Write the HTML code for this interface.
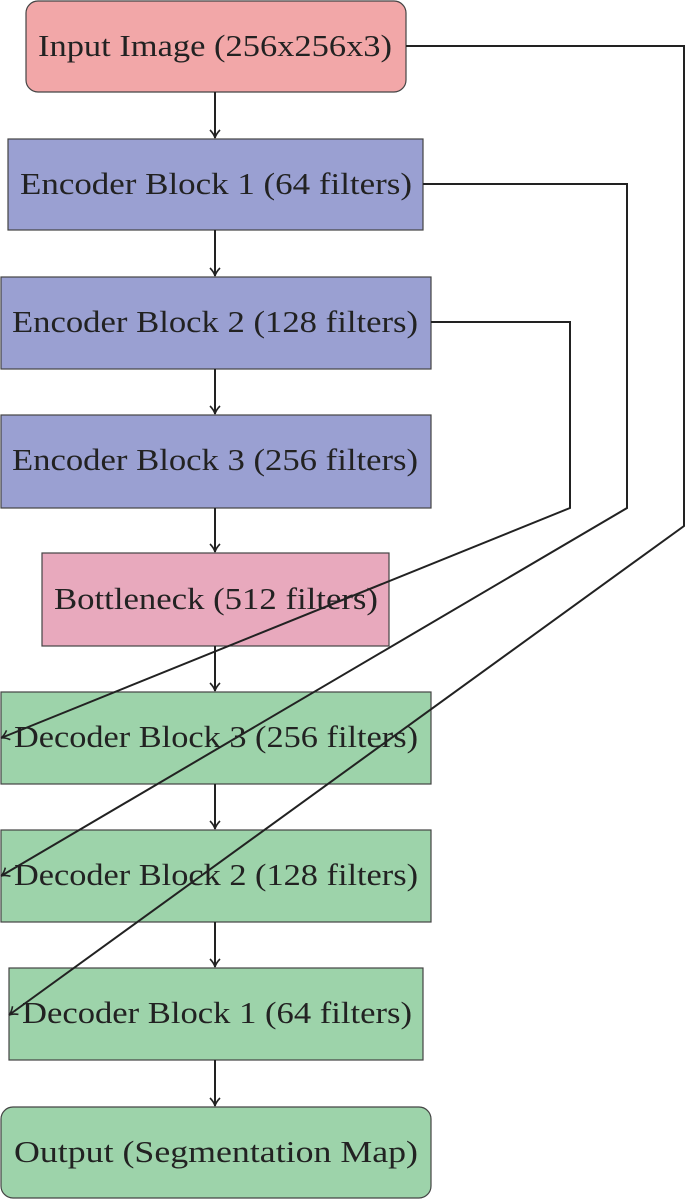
<!DOCTYPE html>
<html><head><style>
body{margin:0;background:#fff;}
svg{display:block;}
text{font-family:"Liberation Serif",serif;font-size:31px;fill:#222;}
</style></head><body>
<svg width="685" height="1200" viewBox="0 0 685 1200">
<defs>
<marker id="a" markerWidth="12" markerHeight="12" refX="10" refY="6" orient="auto" markerUnits="userSpaceOnUse">
<path d="M2,1 Q6,5 10,6 Q6,7 2,11" fill="none" stroke="#222" stroke-width="1.6"/>
</marker>
</defs>
<g stroke="#444" stroke-width="1.2">
<rect x="26" y="1" width="380" height="91" rx="12" fill="#f2a7a8"/>
<rect x="8" y="139" width="415" height="91" fill="#9aa0d2"/>
<rect x="1" y="277" width="430" height="92" fill="#9aa0d2"/>
<rect x="1" y="415" width="430" height="93" fill="#9aa0d2"/>
<rect x="42" y="553" width="347" height="93" fill="#e8a9bd"/>
<rect x="1" y="692" width="430" height="92" fill="#9dd3aa"/>
<rect x="1" y="830" width="430" height="92" fill="#9dd3aa"/>
<rect x="9" y="968" width="414" height="92" fill="#9dd3aa"/>
<rect x="1" y="1107" width="430" height="91" rx="12" fill="#9dd3aa"/>
</g>
<g>
<text x="38" y="56" textLength="354" lengthAdjust="spacingAndGlyphs">Input Image (256x256x3)</text>
<text x="20" y="194" textLength="392" lengthAdjust="spacingAndGlyphs">Encoder Block 1 (64 filters)</text>
<text x="12" y="332" textLength="406" lengthAdjust="spacingAndGlyphs">Encoder Block 2 (128 filters)</text>
<text x="12" y="470" textLength="406" lengthAdjust="spacingAndGlyphs">Encoder Block 3 (256 filters)</text>
<text x="54" y="609" textLength="324" lengthAdjust="spacingAndGlyphs">Bottleneck (512 filters)</text>
<text x="14" y="747" textLength="404" lengthAdjust="spacingAndGlyphs">Decoder Block 3 (256 filters)</text>
<text x="14" y="885" textLength="404" lengthAdjust="spacingAndGlyphs">Decoder Block 2 (128 filters)</text>
<text x="22" y="1023" textLength="390" lengthAdjust="spacingAndGlyphs">Decoder Block 1 (64 filters)</text>
<text x="14" y="1162" textLength="404" lengthAdjust="spacingAndGlyphs">Output (Segmentation Map)</text>
</g>
<g stroke="#222" stroke-width="2" fill="none">
<line x1="215" y1="92" x2="215" y2="138" marker-end="url(#a)"/>
<line x1="215" y1="230" x2="215" y2="276" marker-end="url(#a)"/>
<line x1="215" y1="369" x2="215" y2="414" marker-end="url(#a)"/>
<line x1="215" y1="508" x2="215" y2="552" marker-end="url(#a)"/>
<line x1="215" y1="646" x2="215" y2="691" marker-end="url(#a)"/>
<line x1="215" y1="784" x2="215" y2="829" marker-end="url(#a)"/>
<line x1="215" y1="922" x2="215" y2="967" marker-end="url(#a)"/>
<line x1="215" y1="1060" x2="215" y2="1106" marker-end="url(#a)"/>
<polyline points="406,46 684,46 684,526 9,1015" marker-end="url(#a)"/>
<polyline points="423,184 627,184 627,508 1,876" marker-end="url(#a)"/>
<polyline points="431,322 570,322 570,508 1,738" marker-end="url(#a)"/>
</g>
</svg>
</body></html>
